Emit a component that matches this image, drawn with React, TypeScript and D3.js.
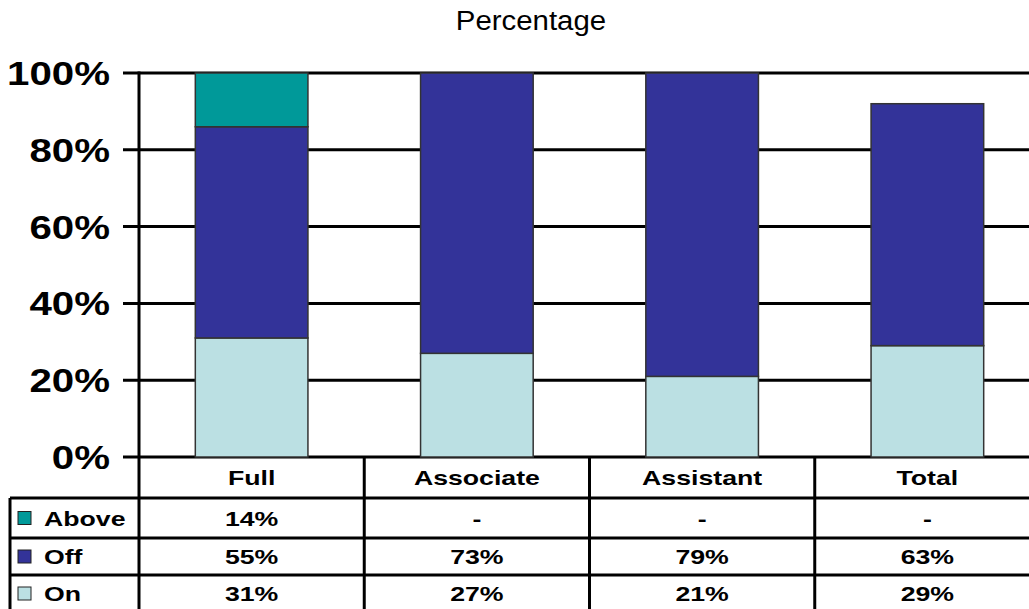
import * as d3 from 'd3'

const categories = ['Full', 'Associate', 'Assistant', 'Total']
const seriesNames = ['On', 'Off', 'Above']
const onValues = [31, 27, 21, 29]
const offValues = [55, 73, 79, 63]
const aboveValues = [14, 0, 0, 0]
const yTicks = [0, 20, 40, 60, 80, 100]

const COLORS: Record<string, string> = { Above: '#009999', Off: '#333399', On: '#bbe0e3' }
const FONT = '"Liberation Sans", Arial, Helvetica, sans-serif'

const W = 1029
const H = 609
const PLOT = { left: 139, right: 1040, top: 73, bottom: 457 }
const ROW_LINES = [498, 538, 575, 612]
const LEGEND_LEFT = 10

export default function App() {
  const rows = categories.map((c, i) => ({ cat: c, On: onValues[i], Off: offValues[i], Above: aboveValues[i] }))
  const stacked = d3.stack<any>().keys(seriesNames)(rows)

  const x = d3.scaleBand().domain(categories).range([PLOT.left, PLOT.right]).paddingInner(0.5).paddingOuter(0.25)
  const y = d3.scaleLinear().domain([0, 100]).range([PLOT.bottom, PLOT.top])
  const step = x.step()
  const colCenter = (c: string) => (x(c) as number) + x.bandwidth() / 2

  const tableRows = [
    { name: 'Above', values: aboveValues },
    { name: 'Off', values: offValues },
    { name: 'On', values: onValues },
  ]

  const stretchText = (tx: number, ty: number, sx: number) => `translate(${tx},${ty}) scale(${sx},1)`

  return (
    <svg width={W} height={H} style={{ position: 'absolute', left: 0, top: 0 }} fontFamily={FONT}>
      <rect width={W} height={H} fill="#fff" />
      <text transform={stretchText(531, 30, 1.05)} textAnchor="middle" fontSize={28} fill="#000">
        Percentage
      </text>

      {/* gridlines + y ticks */}
      {yTicks.map((t) => (
        <g key={t}>
          <line x1={123} x2={PLOT.right} y1={y(t)} y2={y(t)} stroke="#000" strokeWidth={3} />
          <text transform={stretchText(110, y(t) + 12, 1.22)} textAnchor="end" fontSize={33} fontWeight="bold">
            {t}%
          </text>
        </g>
      ))}

      {/* bars */}
      {stacked.map((layer) => (
        <g key={layer.key}>
          {layer.map((d, i) =>
            d[1] - d[0] > 0 ? (
              <rect
                key={i}
                x={x(categories[i])}
                width={x.bandwidth()}
                y={y(d[1])}
                height={y(d[0]) - y(d[1])}
                fill={COLORS[layer.key]}
                stroke="#333"
                strokeWidth={1.5}
              />
            ) : null,
          )}
        </g>
      ))}

      {/* y axis line */}
      <line x1={PLOT.left} x2={PLOT.left} y1={PLOT.top - 1.5} y2={H} stroke="#000" strokeWidth={3} />

      {/* data table */}
      {categories.slice(1).map((c) => (
        <line
          key={c}
          x1={colCenter(c) - step / 2}
          x2={colCenter(c) - step / 2}
          y1={PLOT.bottom}
          y2={H}
          stroke="#000"
          strokeWidth={3}
        />
      ))}
      {ROW_LINES.map((ly) => (
        <line key={ly} x1={LEGEND_LEFT} x2={PLOT.right} y1={ly} y2={ly} stroke="#000" strokeWidth={3} />
      ))}
      <line x1={LEGEND_LEFT} x2={LEGEND_LEFT} y1={ROW_LINES[0]} y2={H} stroke="#000" strokeWidth={3} />

      {categories.map((c) => (
        <text
          key={c}
          transform={stretchText(colCenter(c), (PLOT.bottom + ROW_LINES[0]) / 2 + 7.5, 1.27)}
          textAnchor="middle"
          fontSize={21}
          fontWeight="bold"
        >
          {c}
        </text>
      ))}

      {tableRows.map((r, ri) => {
        const cy = (ROW_LINES[ri] + ROW_LINES[ri + 1]) / 2
        return (
          <g key={r.name}>
            <rect x={18} y={cy - 6.5} width={13} height={13} fill={COLORS[r.name]} stroke="#222" strokeWidth={1} />
            <text transform={stretchText(44, cy + 7.5, 1.27)} fontSize={21} fontWeight="bold">
              {r.name}
            </text>
            {r.values.map((v, i) => (
              <text
                key={i}
                transform={stretchText(colCenter(categories[i]), cy + 7.5, 1.27)}
                textAnchor="middle"
                fontSize={21}
                fontWeight="bold"
              >
                {v > 0 ? `${v}%` : '-'}
              </text>
            ))}
          </g>
        )
      })}
    </svg>
  )
}
